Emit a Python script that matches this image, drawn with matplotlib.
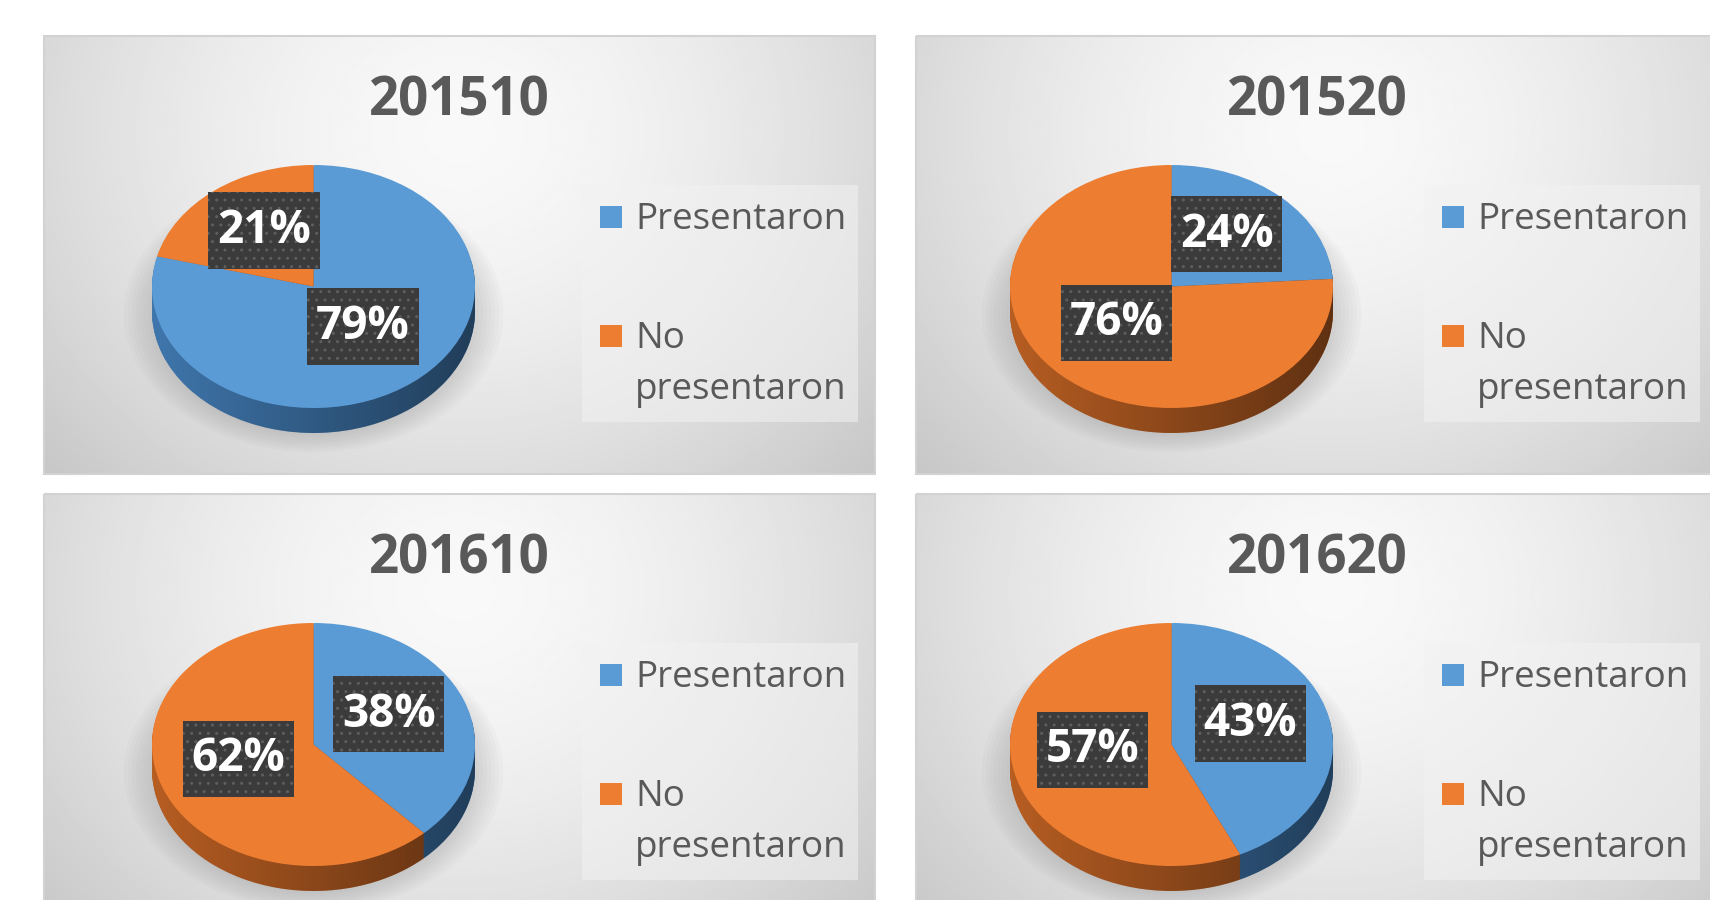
import numpy as np
import matplotlib.pyplot as plt
from matplotlib.patches import Rectangle, Ellipse, PathPatch
from matplotlib.path import Path

# Data
titles = ['201510', '201520', '201610', '201620']
presentaron = [79, 24, 38, 43]
no_presentaron = [21, 76, 62, 57]
labels = ['Presentaron', 'No\npresentaron']

colors = ['#5B9BD5', '#ED7D31']
side_colors = ['#3f76ac', '#b65d22']
text_gray = '#595959'

plt.rcParams['font.family'] = ['Open Sans', 'DejaVu Sans']

W, H = 1710, 900
fig = plt.figure(figsize=(W / 100, H / 100), dpi=100)

# overlay axes in pixel coordinates (y down)
bg = fig.add_axes([0, 0, 1, 1])
bg.set_xlim(0, W)
bg.set_ylim(H, 0)
bg.axis('off')

origins = [(44, 36), (916, 36), (44, 494), (916, 494)]
# horizontal shift of (pie/title, legend) inside each panel
shifts = [(0, 0), (-14, -30), (0, 0), (-14, -30)]
pw, ph = 831, 438

# radial gray gradient for the panel background
yy, xx = np.mgrid[0:1:220j, 0:1:420j]
d = np.sqrt(((xx - 0.5) / 0.62) ** 2 + ((yy - 0.22) / 1.05) ** 2)
shade = np.clip(0.975 - 0.17 * d ** 1.6, 0.77, 0.975)

a_px, b_px = 161.5, 121.5   # pie semi-axes in pixels
depth = 25 / b_px           # pie thickness in data units


def label_box(x0, y0, width, height, mutation_size):
    px, py = 0.19 * mutation_size, 0.32 * mutation_size
    x0, y0 = x0 - px, y0 - py
    x1, y1 = x0 + width + 2 * px, y0 + height + 2 * py
    return Path([(x0, y0), (x1, y0), (x1, y1), (x0, y1), (x0, y0)], closed=True)


# silhouette of the pie body (top half of upper ellipse + bottom half of lower one)
t_up = np.linspace(0, np.pi, 100)
t_lo = np.linspace(np.pi, 2 * np.pi, 100)
body = np.vstack([np.column_stack([np.cos(t_up), np.sin(t_up)]),
                  np.column_stack([np.cos(t_lo), np.sin(t_lo) - depth])])
grad = np.zeros((2, 200, 4))
grad[..., 3] = np.linspace(0.0, 0.48, 200)

for i, (ox, oy) in enumerate(origins):
    sp, sl = shifts[i]
    # background and frame
    bg.imshow(shade, cmap='gray', vmin=0, vmax=1, aspect='auto',
              extent=(ox, ox + pw, oy + ph, oy), zorder=0)
    bg.add_patch(Rectangle((ox, oy), pw, ph, fill=False, edgecolor='#d2d2d2', lw=1.5, zorder=1))

    # title
    bg.text(ox + 415 + sp, oy + 65, titles[i], ha='center', va='center',
            fontsize=38, fontweight='bold', color=text_gray, zorder=2)

    # legend
    bg.add_patch(Rectangle((ox + 538 + sl, oy + 149), 276, 237, facecolor='#f2f2f2',
                           alpha=0.55, edgecolor='none', zorder=1))
    rows = [oy + 181, oy + 300]
    for lab, c, ry in zip(labels, colors, rows):
        bg.add_patch(Rectangle((ox + 556 + sl, ry - 11), 22, 22, facecolor=c,
                               edgecolor='none', zorder=2))
        bg.text(ox + 591 + sl, ry - 15, lab, ha='left', va='top', fontsize=26.5,
                color=text_gray, linespacing=1.56, zorder=2)

    # pie axes
    cx, cy = ox + 269.5 + sp, oy + 250.5
    left, right = cx - 202, cx + 202
    top, bottom = cy - 1.3 * b_px, cy + 1.6 * b_px
    ax = fig.add_axes([left / W, 1 - bottom / H, (right - left) / W, (bottom - top) / H])
    ax.patch.set_alpha(0)

    vals = [presentaron[i], no_presentaron[i]]

    # soft shadow
    for k in range(8):
        ax.add_patch(Ellipse((0, -depth - 0.02), 2.0 + 0.05 * k, 2.0 + 0.04 * k,
                             facecolor='#7a7a7a', alpha=0.035, edgecolor='none', zorder=0))

    # extruded side
    for off in np.linspace(-depth, -0.01, 24):
        ax.pie(vals, colors=side_colors, startangle=90, counterclock=False,
               center=(0, off), wedgeprops=dict(linewidth=0, zorder=1))

    # darker shading towards the right of the side
    clip = PathPatch(Path(body), transform=ax.transData, facecolor='none', edgecolor='none')
    ax.add_patch(clip)
    im = ax.imshow(grad, extent=(-1, 1, -1 - depth, 0.2), aspect='auto', zorder=2)
    im.set_clip_path(clip)

    # top surface with labels
    wedges, _, autotexts = ax.pie(vals, colors=colors, startangle=90, counterclock=False,
                                  autopct='%1.0f%%', pctdistance=0.5,
                                  wedgeprops=dict(linewidth=0, zorder=3),
                                  textprops=dict(color='white', fontsize=33,
                                                 fontweight='bold', zorder=4))
    for t in autotexts:
        x, y = t.get_position()
        t.set_position((x, y + 0.065))
        t.set_bbox(dict(boxstyle=label_box, facecolor='#3b3b3b',
                        edgecolor='#5e5e5e', hatch='..', linewidth=0))

    ax.set_aspect('auto')
    ax.set_xlim(-202 / a_px, 202 / a_px)
    ax.set_ylim(-1.6, 1.3)
    ax.axis('off')

fig.savefig('out.png', dpi=100)
